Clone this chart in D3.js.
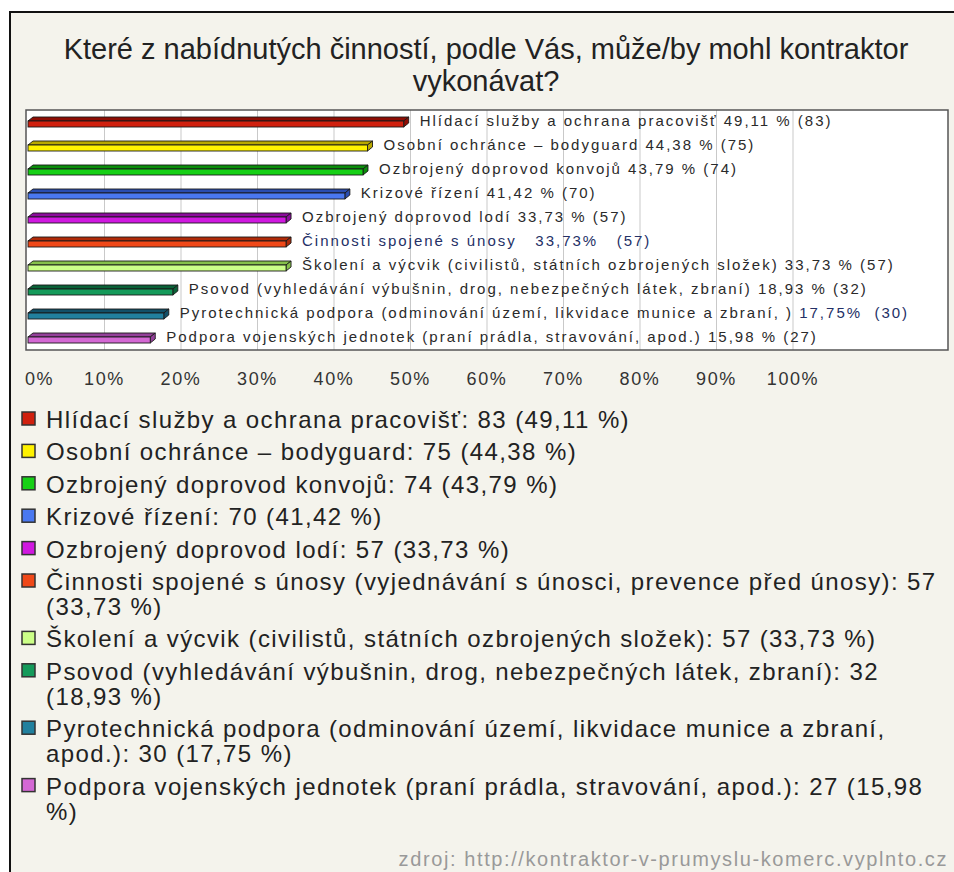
<!DOCTYPE html>
<html>
<head>
<meta charset="utf-8">
<script src="https://cdn.jsdelivr.net/npm/d3@7"></script>
<style>
  body { margin: 0; background: #fff; }
  svg { display: block; font-family: "Liberation Sans", Arial, sans-serif; }
</style>
</head>
<body>
<div id="root"></div>
<script>
const width = 954;
const height = 872;

const titleLines = [
  'Které z nabídnutých činností, podle Vás, může/by mohl kontraktor',
  'vykonávat?'
];

const categories = [
  'Hlídací služby a ochrana pracovišť',
  'Osobní ochránce – bodyguard',
  'Ozbrojený doprovod konvojů',
  'Krizové řízení',
  'Ozbrojený doprovod lodí',
  'Činnosti spojené s únosy (vyjednávání s únosci, prevence před únosy)',
  'Školení a výcvik (civilistů, státních ozbrojených složek)',
  'Psovod (vyhledávání výbušnin, drog, nebezpečných látek, zbraní)',
  'Pyrotechnická podpora (odminování území, likvidace munice a zbraní, apod.)',
  'Podpora vojenských jednotek (praní prádla, stravování, apod.)'
];
const counts = [83, 75, 74, 70, 57, 57, 57, 32, 30, 27];
const percents = [49.11, 44.38, 43.79, 41.42, 33.73, 33.73, 33.73, 18.93, 17.75, 15.98];

// labels drawn next to the bars (plain part + navy part)
const barLabels = [
  'Hlídací služby a ochrana pracovišť 49,11 % (83)',
  'Osobní ochránce – bodyguard 44,38 % (75)',
  'Ozbrojený doprovod konvojů 43,79 % (74)',
  'Krizové řízení 41,42 % (70)',
  'Ozbrojený doprovod lodí 33,73 % (57)',
  '',
  'Školení a výcvik (civilistů, státních ozbrojených složek) 33,73 % (57)',
  'Psovod (vyhledávání výbušnin, drog, nebezpečných látek, zbraní) 18,93 % (32)',
  'Pyrotechnická podpora (odminování území, likvidace munice a zbraní, ) ',
  'Podpora vojenských jednotek (praní prádla, stravování, apod.) 15,98 % (27)'
];
const barLabelsNavy = ['', '', '', '', '', 'Činnosti spojené s únosy   33,73%   (57)', '', '', '17,75%  (30)', ''];

const tickValues = [0, 10, 20, 30, 40, 50, 60, 70, 80, 90, 100];

const frontColors = ['#d0200e', '#fff200', '#16d016', '#4a78f0', '#d018e0', '#f04818', '#ccff88', '#149a5a', '#21809e', '#d468d4'];
const topColors   = ['#8e0d04', '#b9a800', '#0b8e0b', '#2a4db0', '#8c0c9c', '#b02a08', '#86c04a', '#0a6238', '#125068', '#94409a'];

const fmt = (v) => v.toFixed(2).replace('.', ',');

const svg = d3.select('#root')
  .append('svg')
  .attr('width', width)
  .attr('height', height);

// outer frame
svg.append('rect')
  .attr('x', 10).attr('y', 12)
  .attr('width', 960).attr('height', 900)
  .attr('fill', '#f4f3ec')
  .attr('stroke', '#111')
  .attr('stroke-width', 2);

// title
svg.append('g')
  .selectAll('text')
  .data(titleLines)
  .enter()
  .append('text')
  .attr('x', 486)
  .attr('y', (d, i) => 59 + i * 32)
  .attr('text-anchor', 'middle')
  .attr('font-size', 29)
  .attr('fill', '#222')
  .text((d) => d);

// plot box
const box = {left: 26, top: 110, right: 948, bottom: 350};
svg.append('rect')
  .attr('x', box.left).attr('y', box.top)
  .attr('width', box.right - box.left).attr('height', box.bottom - box.top)
  .attr('fill', '#fff');

const x = d3.scaleLinear().domain([0, 100]).range([28, 793]);
const y = d3.scaleBand().domain(d3.range(categories.length)).range([box.top, box.bottom]);

svg.append('g')
  .selectAll('line')
  .data(tickValues.slice(1))
  .enter()
  .append('line')
  .attr('x1', (d) => x(d)).attr('x2', (d) => x(d))
  .attr('y1', box.top).attr('y2', box.bottom)
  .attr('stroke', '#c9c9c9')
  .attr('stroke-width', 1);

// 3d bars
const dx = 5;
const dy = 4;
const bars = svg.append('g')
  .selectAll('g')
  .data(percents)
  .enter()
  .append('g')
  .attr('transform', (d, i) => 'translate(0,' + (y(i) + y.bandwidth() / 2) + ')');

bars.append('path')
  .attr('d', (d) => {
    const x0 = x(0), x1 = x(d);
    return `M${x0},-1L${x0 + dx},${-1 - dy}L${x1 + dx},${-1 - dy}L${x1},-1Z`;
  })
  .attr('fill', (d, i) => topColors[i])
  .attr('stroke', '#1a1a1a')
  .attr('stroke-width', 0.9);

bars.append('path')
  .attr('d', (d) => {
    const x1 = x(d);
    return `M${x1},-1L${x1 + dx},${-1 - dy}L${x1 + dx},${5 - dy}L${x1},5Z`;
  })
  .attr('fill', (d, i) => topColors[i])
  .attr('stroke', '#1a1a1a')
  .attr('stroke-width', 0.9);

bars.append('rect')
  .attr('x', x(0))
  .attr('y', -1)
  .attr('width', (d) => x(d) - x(0))
  .attr('height', 6)
  .attr('fill', (d, i) => frontColors[i])
  .attr('stroke', '#1a1a1a')
  .attr('stroke-width', 0.9);

const lbl = bars.append('text')
  .attr('x', (d) => x(d) + 16)
  .attr('y', 4)
  .attr('font-size', 15)
  .attr('letter-spacing', 2)
  .attr('fill', '#2a2a2a')
  .style('white-space', 'pre');
lbl.append('tspan').text((d, i) => barLabels[i]);
lbl.append('tspan').attr('fill', '#243066').text((d, i) => barLabelsNavy[i]);

svg.append('rect')
  .attr('x', box.left).attr('y', box.top)
  .attr('width', box.right - box.left).attr('height', box.bottom - box.top)
  .attr('fill', 'none')
  .attr('stroke', '#555')
  .attr('stroke-width', 1.5);

// x axis labels
svg.append('g')
  .selectAll('text')
  .data(tickValues)
  .enter()
  .append('text')
  .attr('x', (d) => d === 0 ? box.left - 1 : x(d))
  .attr('y', 385)
  .attr('text-anchor', (d) => d === 0 ? 'start' : 'middle')
  .attr('font-size', 18)
  .attr('letter-spacing', 1.6)
  .attr('fill', '#333')
  .text((d) => d + '%');

// legend
const legend = svg.append('g');
let ly = 428;
const maxW = 898;
categories.forEach((name, i) => {
  const g = legend.append('g');
  g.append('rect')
    .attr('x', 22).attr('y', ly - 16)
    .attr('width', 13).attr('height', 13)
    .attr('fill', frontColors[i])
    .attr('stroke', '#333')
    .attr('stroke-width', 1.5);
  const t = g.append('text')
    .attr('x', 46).attr('y', ly)
    .attr('font-size', 24)
    .attr('letter-spacing', 1.4)
    .attr('fill', '#222');
  const words = (name + ': ' + counts[i] + ' (' + fmt(percents[i]) + ' %)').split(' ');
  let line = [];
  let lineNo = 0;
  let tspan = t.append('tspan').attr('x', 46).attr('y', ly);
  words.forEach((w) => {
    line.push(w);
    tspan.text(line.join(' '));
    if (tspan.node().getComputedTextLength() > maxW && line.length > 1) {
      line.pop();
      tspan.text(line.join(' '));
      line = [w];
      lineNo++;
      tspan = t.append('tspan').attr('x', 46).attr('y', ly + lineNo * 25).text(w);
    }
  });
  ly += 32.4 + lineNo * 25;
});

// source
svg.append('text')
  .attr('x', 948)
  .attr('y', 866)
  .attr('text-anchor', 'end')
  .attr('font-size', 20)
  .attr('letter-spacing', 1.6)
  .attr('fill', '#999')
  .text('zdroj: http://kontraktor-v-prumyslu-komerc.vyplnto.cz');
</script>
</body>
</html>
